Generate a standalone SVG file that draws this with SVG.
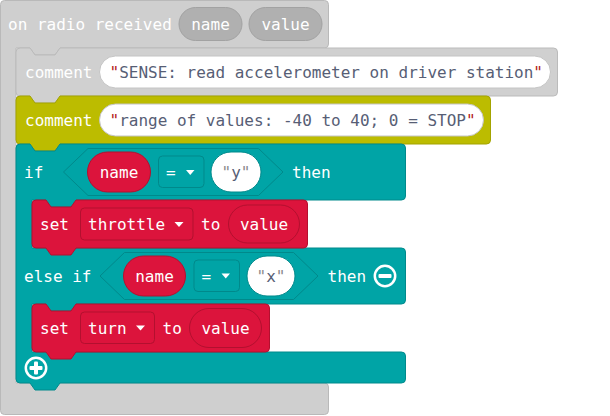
<svg xmlns="http://www.w3.org/2000/svg" width="610" height="416" viewBox="0 0 610 416">
<style>
text{font-family:"DejaVu Sans Mono","Liberation Mono",monospace;font-size:16px;}
.w{fill:#ffffff;}
.s{fill:#575E75;}
.q{fill:#B22222;}
.qg{fill:#8C8C8C;}
.mid{text-anchor:middle;}
.ev{fill:#CFCFCF;stroke:#B9B9B9;stroke-width:1;}
.evp{fill:#B0B0B0;stroke:#A2A2A2;stroke-width:1;}
.cg{fill:#D0D0D0;stroke:#BBBBBB;stroke-width:1;}
.ol{fill:#BCBC00;stroke:#A3A300;stroke-width:1;}
.tl{fill:#00A4A6;stroke:#008A8C;stroke-width:1;}
.hx{fill:#00A4A6;stroke:#00898B;stroke-width:1;}
.rd{fill:#DC143C;stroke:#B3102F;stroke-width:1;}
.dd{stroke-width:1;}
.str{fill:#ffffff;stroke:#C4C4C4;stroke-width:1;}
.strt{fill:#ffffff;stroke:#00898B;stroke-width:1;}
.ico{fill:none;stroke:#ffffff;stroke-width:2.5;}
</style>

<g id="event">
<path class="ev" d="M0.5,4.5 Q0.5,0.5 4.5,0.5 H324.5 Q328.5,0.5 328.5,4.5 V44 Q328.5,48 324.5,48 H60 l-5,7 h-20 l-5,-7 H16 V383 H324.5 Q328.5,383 328.5,387 V410.5 Q328.5,414.5 324.5,414.5 H4.5 Q0.5,414.5 0.5,410.5 Z"/>
<text class="w" x="8" y="29.5">on radio received</text>
<rect class="evp" x="179" y="7.5" width="63" height="33" rx="16.5"/>
<text class="w mid" x="210.5" y="29.5">name</text>
<rect class="evp" x="249" y="7.5" width="73" height="33" rx="16.5"/>
<text class="w mid" x="285.5" y="29.5">value</text>
</g>

<g id="comment1">
<path class="cg" d="M16,52 Q16,48 20,48 H30 l5,7 h20 l5,-7 H553.5 Q557.5,48 557.5,52 V92 Q557.5,96 553.5,96 H60 l-5,7 h-20 l-5,-7 H20 Q16,96 16,92 Z"/>
<text class="w" x="25" y="77.5">comment</text>
<rect class="str" x="99.5" y="56" width="451" height="32" rx="16"/>
<text x="109.5" y="77.5"><tspan class="q">"</tspan><tspan class="s">SENSE: read accelerometer on driver station</tspan><tspan class="q">"</tspan></text>
</g>

<g id="comment2">
<path class="ol" d="M16,100 Q16,96 20,96 H30 l5,7 h20 l5,-7 H486.5 Q490.5,96 490.5,100 V140 Q490.5,144 486.5,144 H60 l-5,7 h-20 l-5,-7 H20 Q16,144 16,140 Z"/>
<text class="w" x="25" y="125.5">comment</text>
<rect class="str" x="99.5" y="104" width="384" height="32" rx="16"/>
<text x="109.5" y="125.5"><tspan class="q">"</tspan><tspan class="s">range of values: -40 to 40; 0 = STOP</tspan><tspan class="q">"</tspan></text>
</g>

<g id="if-block">
<path class="tl" d="M16,148 Q16,144 20,144 H30 l5,7 h20 l5,-7 H401.5 Q405.5,144 405.5,148 V196 Q405.5,200 401.5,200 H76 l-5,7 h-20 l-5,-7 H32 V248 H401.5 Q405.5,248 405.5,252 V300 Q405.5,304 401.5,304 H76 l-5,7 h-20 l-5,-7 H32 V352 H401.5 Q405.5,352 405.5,356 V379 Q405.5,383 401.5,383 H60 l-5,7 h-20 l-5,-7 H20 Q16,383 16,379 Z"/>
<text class="w" x="24" y="177.5">if</text>
<polygon class="hx" points="63.5,172 88,148.5 258.5,148.5 283,172 258.5,195.5 88,195.5"/>
<rect class="rd" x="87.5" y="152" width="63" height="40" rx="20"/>
<text class="w mid" x="119" y="177.5">name</text>
<rect class="hx" x="158.5" y="156" width="45.5" height="31.5" rx="4"/>
<text class="w" x="166" y="177.5">=</text>
<path d="M186,170 H194.5 L190.25,175 Z" fill="#ffffff"/>
<rect class="strt" x="211" y="152" width="50" height="40" rx="20"/>
<text x="236" y="177.5" class="mid"><tspan class="qg">"</tspan><tspan class="s">y</tspan><tspan class="qg">"</tspan></text>
<text class="w" x="292" y="177.5">then</text>

<text class="w" x="24" y="281.5">else if</text>
<polygon class="hx" points="100,276 124.5,252.5 293.5,252.5 318,276 293.5,299.5 124.5,299.5"/>
<rect class="rd" x="123.5" y="256" width="62" height="40" rx="20"/>
<text class="w mid" x="154.5" y="281.5">name</text>
<rect class="hx" x="194" y="260" width="45.5" height="31.5" rx="4"/>
<text class="w" x="201.5" y="281.5">=</text>
<path d="M221.5,273.5 H230 L225.75,278.5 Z" fill="#ffffff"/>
<rect class="strt" x="247" y="256" width="48" height="40" rx="20"/>
<text x="271" y="281.5" class="mid"><tspan class="qg">"</tspan><tspan class="s">x</tspan><tspan class="qg">"</tspan></text>
<text class="w" x="327.5" y="281.5">then</text>
<circle class="ico" cx="385" cy="276" r="10.2"/>
<rect x="378.5" y="274" width="13" height="4" rx="1" fill="#ffffff"/>

<circle class="ico" cx="36" cy="368" r="10.2"/>
<rect x="29.5" y="366" width="13" height="4" rx="1" fill="#ffffff"/>
<rect x="34" y="361.5" width="4" height="13" rx="1" fill="#ffffff"/>
</g>

<g id="set-throttle">
<path class="rd" d="M32,204 Q32,200 36,200 H46 l5,7 h20 l5,-7 H303.5 Q307.5,200 307.5,204 V244 Q307.5,248 303.5,248 H76 l-5,7 h-20 l-5,-7 H36 Q32,248 32,244 Z"/>
<text class="w" x="40" y="229.5">set</text>
<rect class="rd" x="80.5" y="208" width="112.5" height="32" rx="4"/>
<text class="w" x="88" y="229.5">throttle</text>
<path d="M174.5,222 H183.5 L179,227 Z" fill="#ffffff"/>
<text class="w" x="201" y="229.5">to</text>
<rect class="rd" x="228.5" y="205" width="71" height="38" rx="19"/>
<text class="w mid" x="264" y="229.5">value</text>
</g>

<g id="set-turn">
<path class="rd" d="M32,308 Q32,304 36,304 H46 l5,7 h20 l5,-7 H265.5 Q269.5,304 269.5,308 V348 Q269.5,352 265.5,352 H76 l-5,7 h-20 l-5,-7 H36 Q32,352 32,348 Z"/>
<text class="w" x="40" y="333.5">set</text>
<rect class="rd" x="80.5" y="312" width="74" height="31.5" rx="4"/>
<text class="w" x="88" y="333.5">turn</text>
<path d="M136,325.5 H145 L140.5,330.5 Z" fill="#ffffff"/>
<text class="w" x="162.5" y="333.5">to</text>
<rect class="rd" x="189.5" y="308.5" width="72" height="39" rx="19.5"/>
<text class="w mid" x="225.5" y="333.5">value</text>
</g>
</svg>
